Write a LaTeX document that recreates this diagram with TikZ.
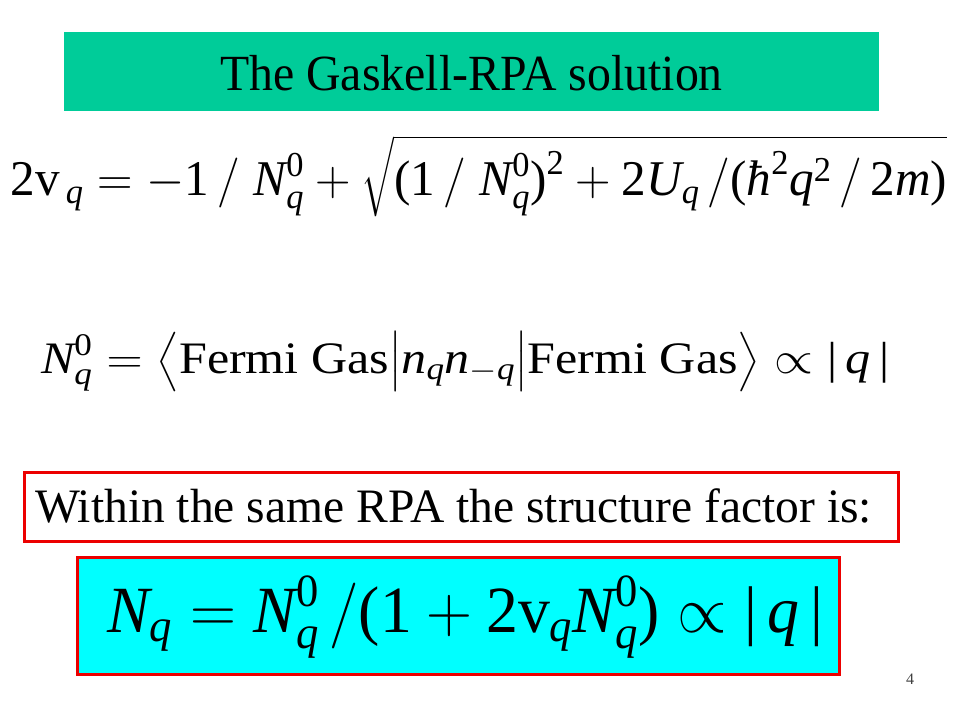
\RequirePackage{fix-cm}
\documentclass[tikz,border=0pt]{standalone}
\usepackage{amsmath}
\usepackage{fontspec}
\setmainfont{Liberation Serif}
\definecolor{titlegreen}{RGB}{0,204,153}
\definecolor{boxcyan}{RGB}{0,255,255}
\definecolor{boxred}{RGB}{236,0,0}
\newcommand\mi[1]{\text{\itshape #1}}
\newcommand\mr[1]{\text{\upshape #1}}
\tikzset{
  txt/.style={inner sep=0pt, outer sep=0pt, anchor=base west},
  redframe/.style={draw=boxred, line width=2.6pt}
}
\begin{document}
\begin{tikzpicture}[x=0.75pt,y=-0.75pt]
\useasboundingbox[fill=white] (0,0) rectangle (960,720);
% title
\fill[titlegreen] (64,32) rectangle (879,111);
\node[txt, anchor=base] (title) at (471.5,91)
  {\scalebox{0.943}[1]{\fontsize{38pt}{45pt}\selectfont The Gaskell-RPA solution}};
% equation 1
\node[txt] (eqone) at (11,196)
  {\resizebox{702pt}{\height}{\fontsize{37.5pt}{45pt}\selectfont
   $\mr{2v}_{\,\mi{q}} = -\mr{1}\,/\;\mi{N}^{\mr{0}}_{\mi{q}} + \sqrt{\rule{0pt}{1.1em}\mr{(}\mr{1}\,/\;\mi{N}^{\mr{0}}_{\mi{q}}\mr{)}^{\mr{2}} + \mr{2}\mi{U}_{\mi{q}}\,/\mr{(}\mi{ħ}^{\mr{2}}\mi{q}^{\mr{2}}\,/\,\mr{2}\mi{m}\mr{)}}$}};
% equation 2
\node[txt] (eqtwo) at (41,373)
  {\resizebox{636pt}{\height}{\fontsize{33.75pt}{40pt}\selectfont
   $\mi{N}^{\mr{0}}_{\mi{q}} = \left\langle\rule[-0.42em]{0pt}{1.3em}\mr{Fermi Gas}\middle|\mi{n}_{\mi{q}}\mi{n}_{-\mi{q}}\middle|\mr{Fermi Gas}\right\rangle \propto \mr{|}\,\mi{q}\,\mr{|}$}};
% box 1
\draw[redframe, fill=white] (24.3,472.3) rectangle (898.7,541.7);
\node[txt] (within) at (35,522)
  {\scalebox{0.99}[1]{\fontsize{36pt}{42pt}\selectfont Within the same RPA the structure factor is:}};
% box 2
\draw[redframe, fill=boxcyan] (77.3,557.3) rectangle (839.7,674.7);
\node[txt] (eqthree) at (107,632)
  {\resizebox{537pt}{\height}{\fontsize{49.5pt}{58pt}\selectfont
   $\mi{N}_{\mi{q}} = \mi{N}^{\mr{0}}_{\mi{q}}\,/\mr{(}\mr{1}+\mr{2v}_{\mi{q}}\mi{N}^{\mr{0}}_{\mi{q}}\mr{)} \propto \mr{|}\,\mi{q}\,\mr{|}$}};
% page number
\node[txt, text=black!75] (pnum) at (906,684) {\fontsize{12pt}{14pt}\selectfont 4};
\end{tikzpicture}
\end{document}
